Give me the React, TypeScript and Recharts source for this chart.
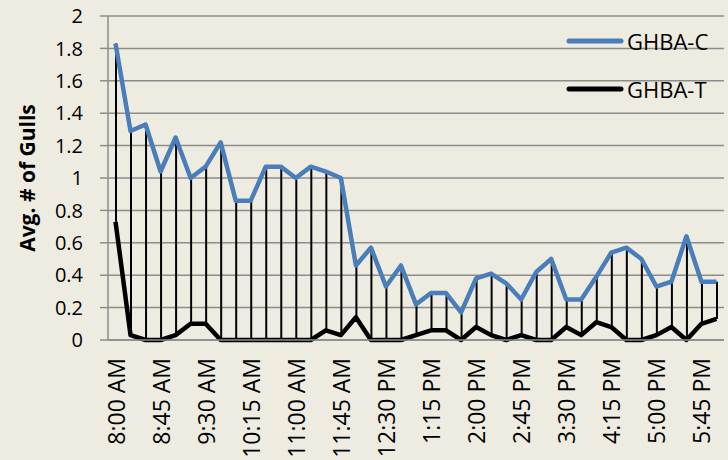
import React from "react"
import {
  ComposedChart,
  Line,
  Bar,
  XAxis,
  YAxis,
  CartesianGrid,
  Legend,
} from "recharts"

const times = [
  "8:00 AM", "8:15 AM", "8:30 AM", "8:45 AM", "9:00 AM", "9:15 AM", "9:30 AM",
  "9:45 AM", "10:00 AM", "10:15 AM", "10:30 AM", "10:45 AM", "11:00 AM", "11:15 AM",
  "11:30 AM", "11:45 AM", "12:00 PM", "12:15 PM", "12:30 PM", "12:45 PM", "1:00 PM",
  "1:15 PM", "1:30 PM", "1:45 PM", "2:00 PM", "2:15 PM", "2:30 PM", "2:45 PM",
  "3:00 PM", "3:15 PM", "3:30 PM", "3:45 PM", "4:00 PM", "4:15 PM", "4:30 PM",
  "4:45 PM", "5:00 PM", "5:15 PM", "5:30 PM", "5:45 PM", "6:00 PM",
]

const ghbaC = [
  1.83, 1.29, 1.33, 1.04, 1.25, 1.0, 1.07, 1.22, 0.86, 0.86, 1.07, 1.07, 1.0, 1.07,
  1.04, 1.0, 0.46, 0.57, 0.33, 0.46, 0.22, 0.29, 0.29, 0.17, 0.38, 0.41, 0.35, 0.25,
  0.42, 0.5, 0.25, 0.25, 0.39, 0.54, 0.57, 0.5, 0.33, 0.36, 0.64, 0.36, 0.36,
]

const ghbaT = [
  0.73, 0.03, 0, 0, 0.03, 0.1, 0.1, 0, 0, 0, 0, 0, 0, 0,
  0.06, 0.03, 0.14, 0, 0, 0, 0.03, 0.06, 0.06, 0, 0.08, 0.03, 0, 0.03,
  0, 0, 0.08, 0.03, 0.11, 0.08, 0, 0, 0.03, 0.08, 0, 0.1, 0.13,
]

const yTicks = [0, 0.2, 0.4, 0.6, 0.8, 1, 1.2, 1.4, 1.6, 1.8, 2]

const data = times.map((t, i) => ({
  time: t,
  c: ghbaC[i],
  t: ghbaT[i],
  range: [ghbaT[i], ghbaC[i]],
}))

const FONT = "'Open Sans', sans-serif"
const BLUE = "#4A7EBB"
const GRID = "#8c8c8c"

// rotated time labels, reading bottom-to-top
const TimeTick = (props: any) => {
  const { x, y, payload } = props
  return (
    <text
      x={x}
      y={y}
      transform={`rotate(-90 ${x} ${y})`}
      textAnchor="end"
      dominantBaseline="central"
      fontFamily={FONT}
      fontSize={23}
      fill="#000"
    >
      {payload.value}
    </text>
  )
}

const LegendBox = () => {
  const items = [
    { name: "GHBA-C", color: BLUE },
    { name: "GHBA-T", color: "#000" },
  ]
  return (
    <div style={{ fontFamily: FONT, fontSize: 22, color: "#000" }}>
      {items.map((it) => (
        <div key={it.name} style={{ display: "flex", alignItems: "center", height: 48 }}>
          <svg width={62} height={10}>
            <line x1={4} y1={5} x2={56} y2={5} stroke={it.color} strokeWidth={5} strokeLinecap="round" />
          </svg>
          <span style={{ lineHeight: "22px" }}>{it.name}</span>
        </div>
      ))}
    </div>
  )
}

export default function App() {
  return (
    <div
      style={{
        position: "absolute",
        left: 0,
        top: 0,
        width: 728,
        height: 460,
        background: "#EEECE1",
      }}
    >
      <ComposedChart
        width={728}
        height={460}
        data={data}
        margin={{ top: 16, right: 4, left: 0, bottom: 0 }}
        barGap={0}
      >
        <CartesianGrid vertical={false} stroke={GRID} strokeWidth={1.5} />
        <XAxis
          dataKey="time"
          interval={2}
          tickLine={false}
          tickSize={0}
          tickMargin={18}
          height={120}
          axisLine={{ stroke: GRID, strokeWidth: 1.5 }}
          tick={<TimeTick />}
        />
        <YAxis
          domain={[0, 2]}
          ticks={yTicks}
          width={108}
          tickSize={8}
          tickMargin={17}
          axisLine={{ stroke: GRID, strokeWidth: 1.5 }}
          tickLine={{ stroke: GRID, strokeWidth: 1.5 }}
          tick={{ fill: "#000", fontFamily: FONT, fontSize: 20 }}
          label={{
            content: (p: any) => {
              const vb = p.viewBox
              const cx = vb.x + 27
              const cy = vb.y + vb.height / 2
              return (
                <text
                  x={cx}
                  y={cy}
                  transform={`rotate(-90 ${cx} ${cy})`}
                  textAnchor="middle"
                  dominantBaseline="central"
                  fontFamily={FONT}
                  fontWeight="bold"
                  fontSize={21}
                  fill="#000"
                >
                  Avg. # of Gulls
                </text>
              )
            },
          }}
        />
        <Legend
          layout="vertical"
          align="center"
          verticalAlign="middle"
          wrapperStyle={{ left: 565, top: 17, width: 160 }}
          content={<LegendBox />}
        />
        <Bar dataKey="range" barSize={2} fill="#000" isAnimationActive={false} legendType="none" />
        <Line
          type="linear"
          dataKey="c"
          name="GHBA-C"
          stroke={BLUE}
          strokeWidth={4.5}
          dot={false}
          strokeLinejoin="round"
          isAnimationActive={false}
        />
        <Line
          type="linear"
          dataKey="t"
          name="GHBA-T"
          stroke="#000"
          strokeWidth={4.5}
          dot={false}
          strokeLinejoin="round"
          isAnimationActive={false}
        />
      </ComposedChart>
    </div>
  )
}
